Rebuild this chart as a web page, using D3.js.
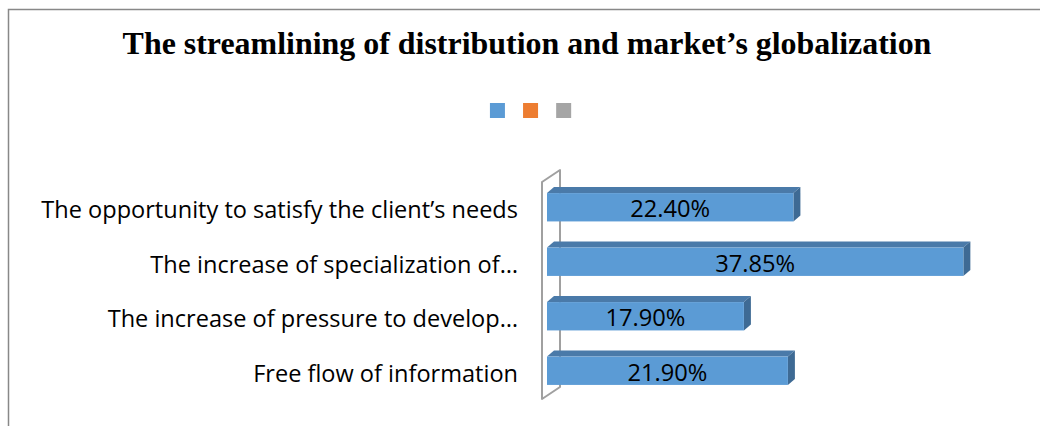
<!DOCTYPE html>
<html>
<head>
<meta charset="utf-8">
<script src="https://cdn.jsdelivr.net/npm/d3@7"></script>
<style>
  body { margin: 0; background: #fff; }
  svg { display: block; }
</style>
</head>
<body>
<svg id="svg" width="1040" height="426"></svg>
<script>
var categories = [
    "The opportunity to satisfy the client\u2019s needs",
    "The increase of specialization of\u2026",
    "The increase of pressure to develop\u2026",
    "Free flow of information"
];
var values = [22.40, 37.85, 17.90, 21.90];
var valueLabels = ["22.40%", "37.85%", "17.90%", "21.90%"];
var legendColors = ["#5b9bd5", "#ed7d31", "#a5a5a5"];

var svg = d3.select("#svg");
var font = "Open Sans, Liberation Sans, sans-serif";

var front = "#5b9bd5", top_ = "#4a7aa9", side = "#3e6a94",
    ddx = 7, ddy = -6,      // bar depth
    wdx = 18, wdy = -12;    // wall depth

// outer border
svg.append("rect").attr("x", 8.5).attr("y", 9.5).attr("width", 1100).attr("height", 500)
    .attr("fill", "none").attr("stroke", "#888").attr("stroke-width", 1.5);

// title
var title = svg.append("text").attr("x", 527).attr("y", 54).attr("text-anchor", "middle")
    .attr("font-family", "Liberation Serif, Times New Roman, serif").attr("font-weight", "bold")
    .attr("font-size", 26).text("The streamlining of distribution and market\u2019s globalization");
var tw = title.node().getComputedTextLength();
title.attr("font-size", 26 * 809 / tw);

// legend
var lx = d3.scaleBand().domain(d3.range(legendColors.length)).range([480, 581]).paddingInner(0.55).paddingOuter(0.3);
svg.selectAll(".leg").data(legendColors).enter().append("rect")
    .attr("x", (d, i) => lx(i)).attr("y", 103).attr("width", 15).attr("height", 15).attr("fill", d => d);

var x = d3.scaleLinear().domain([0, 40]).range([547, 987]);
var y = d3.scaleBand().domain(categories).range([180, 398]).paddingInner(0.48).paddingOuter(0.24);

// 3D wall
var wx = 542, wy0 = y.range()[0] + 2, wy1 = y.range()[1] + 1;
svg.append("path")
    .attr("d", "M" + wx + "," + wy1 + "V" + wy0 + "l" + wdx + "," + wdy + "V" + (wy1 + wdy) + "Z")
    .attr("fill", "#fff").attr("stroke", "#a0a0a0").attr("stroke-width", 2).attr("stroke-linejoin", "round");

var bars = svg.selectAll(".bar").data(values).enter().append("g").attr("class", "bar");
var bw = y.bandwidth();
bars.append("path")
    .attr("d", (d, i) => {
        var x0 = x(0), x1 = x(d), t = y(categories[i]);
        return "M" + x0 + "," + t + "l" + ddx + "," + ddy + "H" + (x1 + ddx) + "l" + (-ddx) + "," + (-ddy) + "Z";
    })
    .attr("fill", top_);
bars.append("path")
    .attr("d", (d, i) => {
        var x1 = x(d), t = y(categories[i]);
        return "M" + x1 + "," + t + "l" + ddx + "," + ddy + "v" + bw + "l" + (-ddx) + "," + (-ddy) + "Z";
    })
    .attr("fill", side);
bars.append("rect")
    .attr("x", x(0)).attr("y", (d, i) => y(categories[i]))
    .attr("width", d => x(d) - x(0)).attr("height", bw).attr("fill", front);

// value labels
var vl = bars.append("text")
    .attr("x", d => (x(0) + x(d)) / 2).attr("y", (d, i) => y(categories[i]) + bw / 2 + 10)
    .attr("text-anchor", "middle").attr("font-family", font).attr("font-size", 20).attr("fill", "#000")
    .text((d, i) => valueLabels[i]);
var vw = vl.nodes()[0].getComputedTextLength();
vl.attr("font-size", 20 * 80 / vw);

// category labels
var cl = svg.selectAll(".cat").data(categories).enter().append("text")
    .attr("x", 518).attr("y", d => y(d) + bw / 2 + 11)
    .attr("text-anchor", "end").attr("font-family", font).attr("font-size", 20).attr("fill", "#000")
    .text(d => d);
var cw = cl.nodes()[0].getComputedTextLength();
cl.attr("font-size", 20 * 477 / cw);
</script>
</body>
</html>
